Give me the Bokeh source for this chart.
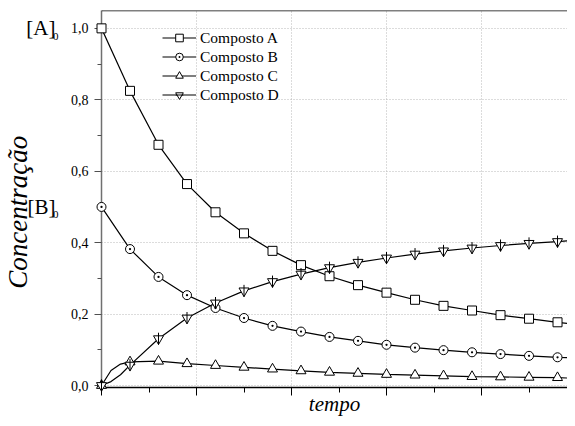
import math
from bokeh.plotting import figure
from bokeh.models import (FixedTicker, CustomJSTickFormatter, Legend,
                          LegendItem, Span, Range1d, LinearAxis)
from bokeh.embed import file_html
from bokeh.resources import INLINE

# ---- data ----
tempo = [0.0, 0.3, 0.6, 0.9, 1.2, 1.5, 1.8, 2.1, 2.4, 2.7, 3.0, 3.3, 3.6, 3.9, 4.2, 4.5, 4.8]
comp_a = [1.000, 0.825, 0.674, 0.564, 0.485, 0.426, 0.377, 0.337, 0.306, 0.281,
          0.260, 0.240, 0.223, 0.210, 0.197, 0.187, 0.177]
comp_b = [0.500, 0.382, 0.304, 0.253, 0.217, 0.189, 0.167, 0.151, 0.136, 0.125,
          0.114, 0.106, 0.099, 0.093, 0.088, 0.083, 0.079]
comp_c = [0.000, 0.066, 0.068, 0.061, 0.056, 0.051, 0.046, 0.041, 0.037, 0.034,
          0.031, 0.029, 0.027, 0.025, 0.024, 0.023, 0.022]
comp_d = [0.000, 0.057, 0.131, 0.189, 0.231, 0.265, 0.291, 0.312, 0.330, 0.345,
          0.357, 0.368, 0.377, 0.385, 0.392, 0.398, 0.403]

# extra points (start of C and D, right edge)
early_t = [0.1, 0.2]
early_c = [0.042, 0.060]
early_d = [0.011, 0.030]
edge_t = 4.905
edge_a, edge_b, edge_c, edge_d = 0.174, 0.078, 0.021, 0.405

x_major = [0, 1, 2, 3, 4]
x_minor = [0.5, 1.5, 2.5, 3.5, 4.5]
y_major = [0.0, 0.2, 0.4, 0.6, 0.8, 1.0]
y_minor = [0.1, 0.3, 0.5, 0.7, 0.9]
labels = ["Composto A", "Composto B", "Composto C", "Composto D"]
initial_ticks = [1.0, 0.5]          # [A]0 and [B]0
initial_names = ["[A]", "[B]"]
y_title_pos = [0.485]

SERIF = "'Liberation Serif', 'Times New Roman', serif"

p = figure(width=567, height=418, output_backend="svg", toolbar_location=None,
           x_range=Range1d(0, edge_t), y_range=Range1d(-0.0056, 1.05),
           min_border_left=101, min_border_right=0, min_border_top=10,
           min_border_bottom=29)
p.outline_line_color = None
p.background_fill_color = "white"

# ---- bottom axis ----
xa = p.xaxis[0]
xa.ticker = FixedTicker(ticks=x_major, minor_ticks=x_minor)
xa.formatter = CustomJSTickFormatter(code="return ''")
xa.major_label_text_font_size = "0px"
xa.major_label_standoff = 0
xa.axis_line_color = "black"
xa.axis_line_width = 1.5
xa.major_tick_out = 8
xa.major_tick_in = 0
xa.minor_tick_out = 5
xa.minor_tick_in = 0
xa.major_tick_line_color = "black"
xa.minor_tick_line_color = "black"
xa.axis_label = "tempo"
xa.axis_label_text_font = SERIF
xa.axis_label_text_font_size = "21px"
xa.axis_label_text_font_style = "italic"
xa.axis_label_text_color = "black"
xa.axis_label_standoff = -4

# ---- left axis ----
ya = p.yaxis[0]
ya.ticker = FixedTicker(ticks=y_major, minor_ticks=y_minor)
ya.formatter = CustomJSTickFormatter(code="return tick.toFixed(1).replace('.', ',')")
ya.major_label_text_font = SERIF
ya.major_label_text_font_size = "14px"
ya.major_label_text_color = "black"
ya.major_label_standoff = 6
ya.axis_line_color = "#707070"
ya.axis_line_width = 1.5
ya.major_tick_out = 7
ya.major_tick_in = 0
ya.minor_tick_out = 4
ya.minor_tick_in = 0
ya.major_tick_line_color = "#505050"
ya.minor_tick_line_color = "#505050"

# subscript "0" of [A]0 / [B]0
ys = LinearAxis(ticker=FixedTicker(ticks=[v - 0.022 for v in initial_ticks], minor_ticks=[]),
                formatter=CustomJSTickFormatter(code="return '0'"))
# names [A] / [B]
yn = LinearAxis(ticker=FixedTicker(ticks=initial_ticks, minor_ticks=[]),
                formatter=CustomJSTickFormatter(
                    code="return tick > 0.75 ? '%s' : '%s'" % tuple(initial_names)))
# vertical title
yt = LinearAxis(ticker=FixedTicker(ticks=y_title_pos, minor_ticks=[]),
                formatter=CustomJSTickFormatter(code="return 'Concentração'"))
yt.major_label_orientation = "parallel"
yt.major_label_text_font_style = "italic"
for ax, fs, so in ((ys, "11px", 9), (yn, "21px", -6), (yt, "27px", -10)):
    ax.axis_line_color = None
    ax.major_tick_line_color = None
    ax.minor_tick_line_color = None
    ax.major_tick_out = 0
    ax.major_tick_in = 0
    ax.minor_tick_out = 0
    ax.major_label_standoff = so
    ax.major_label_text_font = SERIF
    ax.major_label_text_font_size = fs
    ax.major_label_text_color = "black"
p.add_layout(ys, "left")
p.add_layout(yn, "left")
p.add_layout(yt, "left")

for g in (p.xgrid[0], p.ygrid[0]):
    g.grid_line_color = "#b8b8b8"
    g.grid_line_dash = "1 2"
    g.grid_line_width = 1

# top border
p.add_layout(Span(location=1.05, dimension="width", line_color="black", line_width=1.5))

# ---- curves ----
line_kw = dict(line_color="black", line_width=1.2)
la = p.line(tempo + [edge_t], comp_a + [edge_a], **line_kw)
lb = p.line(tempo + [edge_t], comp_b + [edge_b], **line_kw)
lc = p.line([tempo[0]] + early_t + tempo[1:] + [edge_t],
            [comp_c[0]] + early_c + comp_c[1:] + [edge_c], **line_kw)
ld = p.line([tempo[0]] + early_t + tempo[1:] + [edge_t],
            [comp_d[0]] + early_d + comp_d[1:] + [edge_d], **line_kw)

mk = dict(fill_color="white", line_color="black", line_width=1, level="overlay")
sa = p.scatter(tempo, comp_a, marker="square", size=9, **mk)
sb = p.scatter(tempo, comp_b, marker="circle_dot", size=9, **mk)
sc = p.scatter(tempo, comp_c, marker="triangle", size=10, **mk)
sd = p.scatter(tempo, comp_d, marker="inverted_triangle", size=10, **mk)
sd2 = p.scatter(tempo, comp_d, marker="dash", size=12, angle=math.pi / 2,
                line_color="black", line_width=1, level="overlay")

legend = Legend(items=[
    LegendItem(label=labels[0], renderers=[la, sa]),
    LegendItem(label=labels[1], renderers=[lb, sb]),
    LegendItem(label=labels[2], renderers=[lc, sc]),
    LegendItem(label=labels[3], renderers=[ld, sd, sd2]),
], location=(61, 283))
legend.label_text_font = SERIF
legend.label_text_font_size = "15.5px"
legend.label_text_color = "black"
legend.glyph_width = 34
legend.glyph_height = 19
legend.label_height = 19
legend.spacing = 0
legend.padding = 0
legend.margin = 0
legend.label_standoff = 4
legend.border_line_alpha = 0
legend.background_fill_alpha = 0
p.add_layout(legend, "center")

open("out.html", "w").write(file_html(p, INLINE))
